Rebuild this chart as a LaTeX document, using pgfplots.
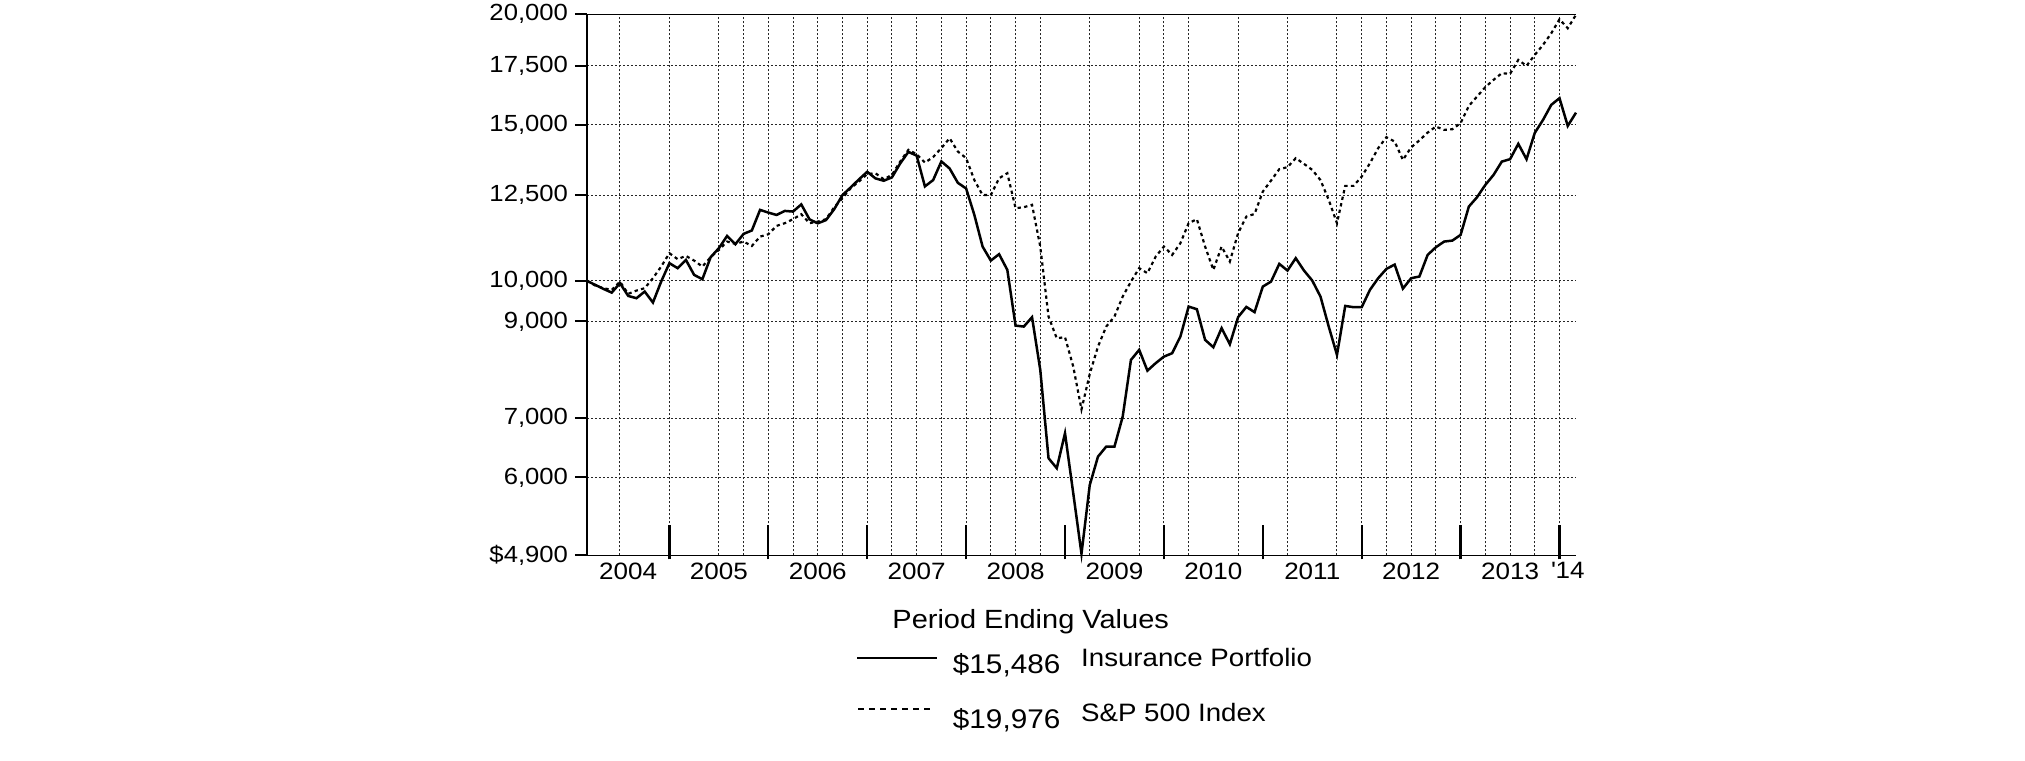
\documentclass[border=0pt]{standalone}
\usepackage{fontspec}
\setmainfont{Liberation Sans}[FakeStretch=1.1]
\usepackage{pgfplots}
\usepackage{pgfplotstable}
\pgfplotsset{compat=1.18}

% month 0 = start of the 10-year period, month 120 = end
\pgfplotstableread{
m ins sp
0 10000 10000
1 9897 9880
2 9794 9812
3 9700 9769
4 9940 9982
5 9617 9668
6 9560 9751
7 9726 9812
8 9452 10070
9 9982 10379
10 10471 10746
11 10336 10581
12 10561 10672
13 10157 10542
14 10044 10379
15 10635 10635
16 10887 10839
17 11240 11076
18 10999 11010
19 11300 11076
20 11400 10950
21 12027 11220
22 11943 11290
23 11870 11537
24 11995 11618
25 11975 11740
26 12200 11892
27 11735 11618
28 11614 11666
29 11713 11740
30 12050 12111
31 12500 12398
32 12752 12725
33 13020 12947
34 13279 13202
35 13054 13231
36 12974 13023
37 13087 13173
38 13570 13637
39 13985 14060
40 13850 13900
41 12785 13600
42 12996 13797
43 13643 14124
44 13393 14491
45 12903 13996
46 12716 13762
47 11872 12996
48 10933 12501
49 10542 12500
50 10719 13058
51 10290 13231
52 8903 12080
53 8880 12111
54 9099 12187
55 7934 10933
56 6307 9114
57 6145 8614
58 6730 8640
59 5758 8003
60 4920 7160
61 5880 7850
62 6333 8430
63 6500 8880
64 6500 9114
65 7027 9600
66 8143 9982
67 8358 10336
68 7920 10202
69 8074 10652
70 8213 10933
71 8286 10699
72 8652 11030
73 9354 11618
74 9290 11740
75 8578 10933
76 8416 10290
77 8843 10933
78 8482 10515
79 9099 11320
80 9346 11820
81 9220 11900
82 9853 12614
83 9982 12980
84 10452 13370
85 10272 13440
86 10608 13758
87 10272 13555
88 10008 13346
89 9600 12996
90 8880 12344
91 8250 11618
92 9370 12802
93 9339 12802
94 9339 13115
95 9769 13580
96 10070 14120
97 10317 14530
98 10433 14365
99 9802 13697
100 10070 14150
101 10114 14410
102 10699 14705
103 10915 14936
104 11076 14808
105 11105 14834
106 11270 15070
107 12131 15762
108 12431 16151
109 12835 16550
110 13173 16865
111 13637 17160
112 13722 17130
113 14280 17764
114 13722 17490
115 14693 17996
116 15198 18470
117 15803 19037
118 16080 19746
119 14963 19290
120 15486 19976
}\perf

\begin{document}
\begin{tikzpicture}
\begin{axis}[
    at={(176.1pt,61.7pt)}, anchor=south west,
    scale only axis, width=296.7pt, height=162.3pt,
    xmin=0, xmax=120,
    ymode=log, ymin=4900, ymax=20000,
    clip=false,
    axis line style={draw=none},
    xtick={5,16,28,40,52,64,76,88,100,112,119},
    xticklabels={2004,2005,2006,2007,2008,2009,2010,2011,2012,2013,\textquotesingle 14},
    xtick style={draw=none},
    xtick pos=lower, ytick pos=left,
    extra x ticks={4,10,16,19,22,25,28,31,34,37,40,43,46,49,52,55,61,67,70,73,79,85,91,94,97,100,103,106,109,112,115,118},
    extra x tick labels={},
    extra x tick style={grid=major, major tick length=0pt},
    ytick={4900,6000,7000,9000,10000,12500,15000,17500,20000},
    yticklabels={{\$4,900},{6,000},{7,000},{9,000},{10,000},{12,500},{15,000},{17,500},{20,000}},
    ytick align=outside,
    major tick length=3.6pt,
    ytick style={black, line width=0.6pt},
    ymajorgrids,
    grid style={black!85, line width=0.3pt, dash pattern=on 0.6pt off 0.6pt},
    xticklabel style={font=\fontsize{7.1}{8}\selectfont, inner sep=0pt, anchor=north, yshift=-2pt},
    yticklabel style={font=\fontsize{7.0}{8}\selectfont, inner sep=0pt, anchor=east, xshift=-1.9pt},
]
\addplot[black, line width=0.65pt, dash pattern=on 1pt off 1pt] table[x=m, y=sp] {\perf};
\addplot[black, line width=0.75pt] table[x=m, y=ins] {\perf};
% axis frame: left, bottom, top (no right side)
\draw[black, line width=0.35pt] (rel axis cs:0,1) -- (rel axis cs:0,0) -- (rel axis cs:1,0);
\draw[black, line width=0.35pt] (rel axis cs:0,1) -- (rel axis cs:1,1);
% long ticks at the year boundaries (month/120)
\draw[black, line width=0.7pt] (rel axis cs:0.08333,0) ++(0pt,-1.2pt) -- ++(0pt,10.2pt);
\draw[black, line width=0.7pt] (rel axis cs:0.18333,0) ++(0pt,-1.2pt) -- ++(0pt,10.2pt);
\draw[black, line width=0.7pt] (rel axis cs:0.28333,0) ++(0pt,-1.2pt) -- ++(0pt,10.2pt);
\draw[black, line width=0.7pt] (rel axis cs:0.38333,0) ++(0pt,-1.2pt) -- ++(0pt,10.2pt);
\draw[black, line width=0.7pt] (rel axis cs:0.48333,0) ++(0pt,-1.2pt) -- ++(0pt,10.2pt);
\draw[black, line width=0.7pt] (rel axis cs:0.58333,0) ++(0pt,-1.2pt) -- ++(0pt,10.2pt);
\draw[black, line width=0.7pt] (rel axis cs:0.68333,0) ++(0pt,-1.2pt) -- ++(0pt,10.2pt);
\draw[black, line width=0.7pt] (rel axis cs:0.78333,0) ++(0pt,-1.2pt) -- ++(0pt,10.2pt);
\draw[black, line width=0.7pt] (rel axis cs:0.88333,0) ++(0pt,-1.2pt) -- ++(0pt,10.2pt);
\draw[black, line width=0.7pt] (rel axis cs:0.98333,0) ++(0pt,-1.2pt) -- ++(0pt,10.2pt);
\end{axis}
\begin{scope}[x=0.3pt, y=0.3pt]
\node[anchor=base west, inner sep=0pt, font=\fontsize{7.9}{9}\selectfont] at (891.8,132.7) {Period Ending Values};
\draw[black, line width=0.75pt] (857.4,103) -- (937,103);
\node[anchor=base west, inner sep=0pt, font=\fontsize{8.1}{9}\selectfont] at (952.3,87.7) {\$15,486};
\node[anchor=base west, inner sep=0pt, font=\fontsize{7.55}{9}\selectfont] at (1080.5,94.3) {Insurance Portfolio};
\draw[black, line width=0.6pt, dash pattern=on 1.8pt off 1.5pt] (858,52) -- (932,52);
\node[anchor=base west, inner sep=0pt, font=\fontsize{8.1}{9}\selectfont] at (952.3,32.7) {\$19,976};
\node[anchor=base west, inner sep=0pt, font=\fontsize{7.55}{9}\selectfont] at (1080.5,39.3) {S\&P 500 Index};
\path (0,0) rectangle (2025,761);
\end{scope}
\end{tikzpicture}
\end{document}
